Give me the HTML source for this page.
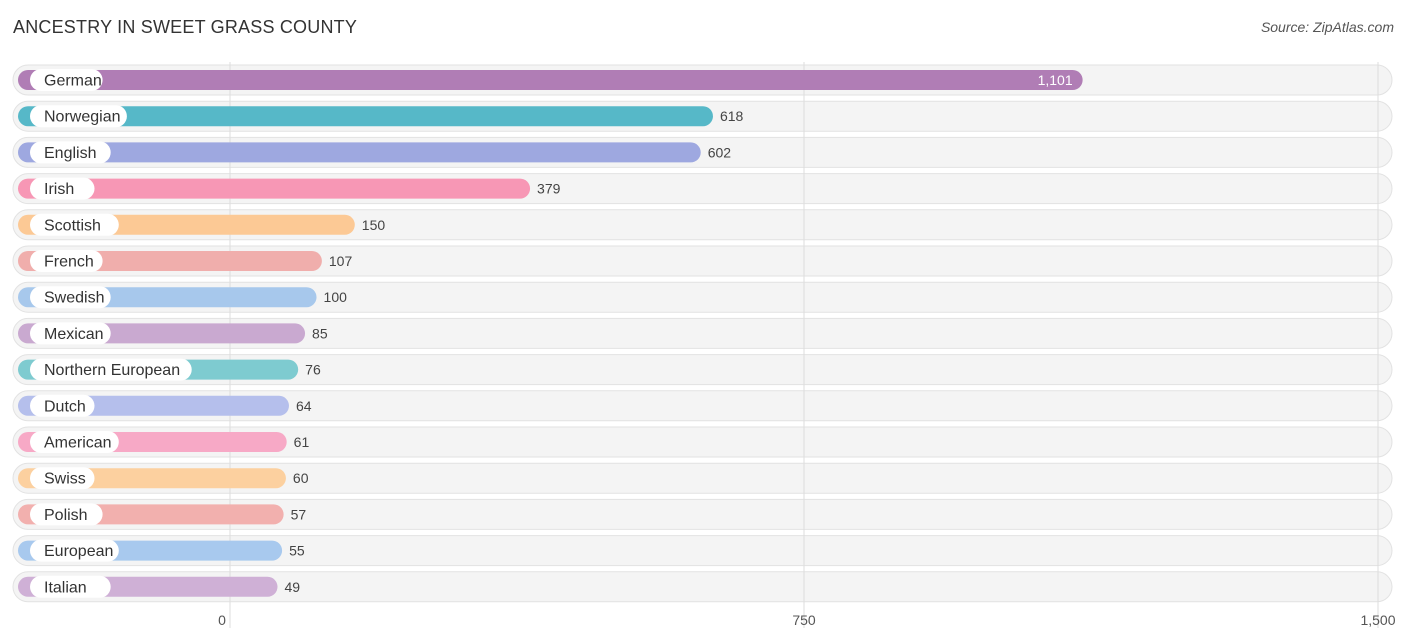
<!DOCTYPE html>
<html><head><meta charset="utf-8"><style>
body{margin:0;background:#fff;font-family:"Liberation Sans",sans-serif;}
#wrap{position:relative;width:1406px;height:644px;overflow:hidden;}
.title{position:absolute;left:13px;top:17px;font-size:18px;color:#333;letter-spacing:0.2px}
.src{position:absolute;right:12px;top:19px;font-size:14px;color:#555;font-style:italic}
</style></head><body>
<div id="wrap">
<div class="title">ANCESTRY IN SWEET GRASS COUNTY</div>
<div class="src">Source: ZipAtlas.com</div>
<svg id="svg" width="1406" height="644" style="position:absolute;left:0;top:0"></svg>
</div>
<script>
const categories=["German","Norwegian","English","Irish","Scottish","French","Swedish","Mexican","Northern European","Dutch","American","Swiss","Polish","European","Italian"];
const values=[1101,618,602,379,150,107,100,85,76,64,61,60,57,55,49];
const colors=["#b07db5","#56b8c8","#9ea8e0","#f797b5","#fcc995","#f0aeac","#a7c8ec","#c9a9d0","#7ecbd0","#b5bfec","#f7a9c6","#fcd09f","#f2b0ae","#a8c9ee","#cfb0d6"];
const ticks=[0,750,1500];
const tickLabels=["0","750","1,500"];
const NS="http://www.w3.org/2000/svg";
const svg=document.getElementById('svg');
const x=v=>230+v*(574/750);
const y=i=>80+i*36.2;
function mk(t,a,p){const e=document.createElementNS(NS,t);for(const k in a)e.setAttribute(k,a[k]);(p||svg).appendChild(e);return e;}
categories.forEach((c,i)=>{
  const r=mk('rect',{x:13,y:y(i)-15,width:1379,height:30,rx:15,fill:'#f4f4f4',stroke:'#e2e2e2'});
  
  
});
ticks.forEach((t,k)=>{
  const l=mk('line',{x1:x(t),x2:x(t),y1:62,y2:628,stroke:'#ddd','stroke-width':1});
  
  
  const tx=mk('text',{x:k==0?x(t)-8:x(t),y:625,'text-anchor':k==0?'middle':'middle','font-size':14,fill:'#555'});
  tx.textContent=tickLabels[k];
  
  
});
categories.forEach((c,i)=>{
  const cy=y(i);
  const end=x(values[i])+10;
  const b=mk('rect',{x:18,y:cy-10,width:end-18,height:20,rx:10,fill:colors[i]});
  
  
  const w=c.length*8.1+24;
  const p=mk('rect',{x:30,y:cy-11,width:w,height:22,rx:11,fill:'#fff'});
  
  
  const t=mk('text',{x:44,y:cy+5.5,'font-size':16,fill:'#333'});
  t.textContent=c;
  
  
  const inside=i==0;
  const v=mk('text',{x:inside?end-10:end+7,y:cy+5,'font-size':14,fill:inside?'#fff':'#444','text-anchor':inside?'end':'start'});
  v.textContent=values[i].toLocaleString('en-US');
  
  
});
</script>
</body></html>
